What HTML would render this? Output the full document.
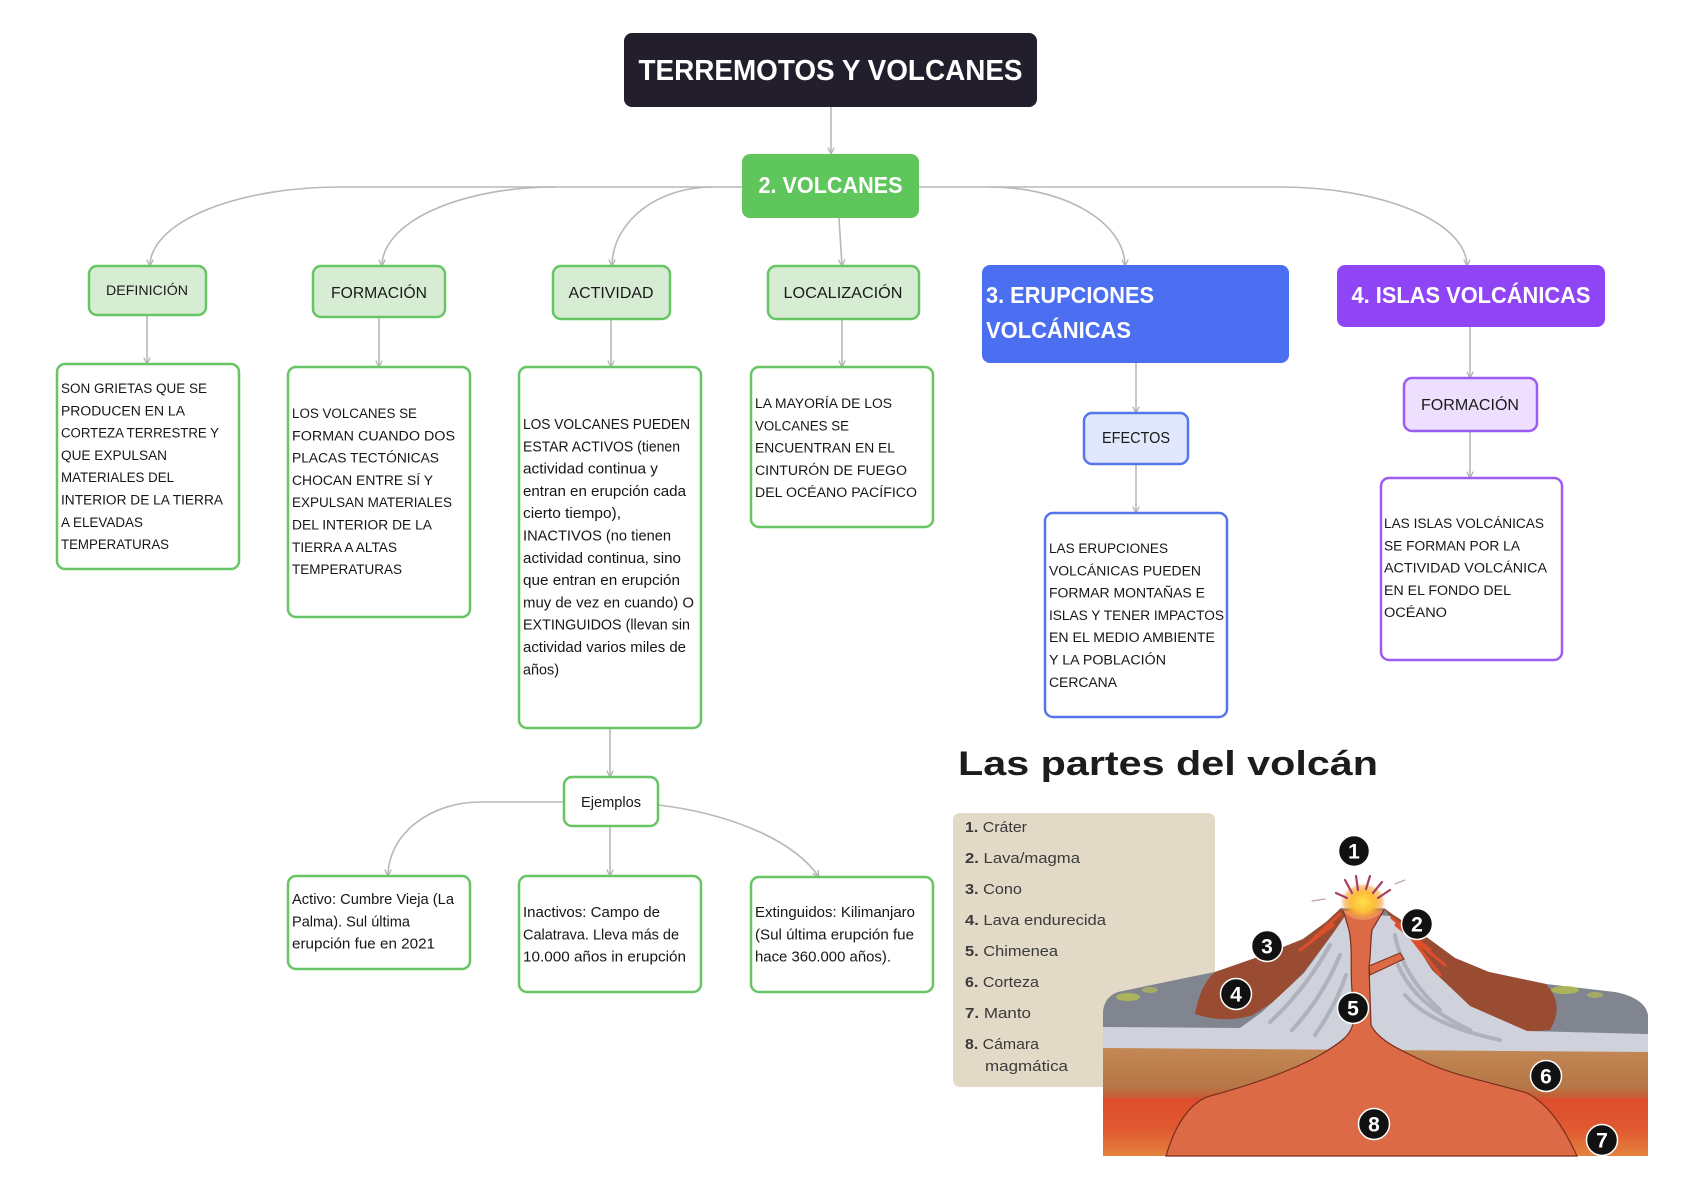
<!DOCTYPE html>
<html>
<head>
<meta charset="utf-8">
<style>
  html,body{margin:0;padding:0;background:#fff;}
  svg{display:block;}
  .u{font-family:"Liberation Sans",Arial,sans-serif;font-size:13.5px;fill:#161616;}
  .m{font-family:"Liberation Sans",Arial,sans-serif;font-size:14.5px;fill:#161616;}
  .lab{font-family:"Liberation Sans",Arial,sans-serif;fill:#1a1a1a;text-anchor:middle;}
  .hd{font-family:"Liberation Sans",Arial,sans-serif;font-weight:bold;fill:#fff;}
  .lg{font-family:"Liberation Sans",Arial,sans-serif;font-size:15px;fill:#3a3a3a;}
  .num{font-family:"Liberation Sans",Arial,sans-serif;font-weight:bold;font-size:21px;fill:#fff;text-anchor:middle;}
  .cn{fill:none;stroke:#b8b8b8;stroke-width:1.6;}
</style>
</head>
<body>
<svg width="1684" height="1190" viewBox="0 0 1684 1190" xmlns="http://www.w3.org/2000/svg">
<defs>
  <marker id="ar" viewBox="0 0 10 10" refX="9" refY="5" markerWidth="5" markerHeight="5" orient="auto">
    <path d="M1,1 L9,5 L1,9" fill="none" stroke="#b0b0b0" stroke-width="1.6"/>
  </marker>
  <linearGradient id="mantle" x1="0" y1="0" x2="0" y2="1">
    <stop offset="0" stop-color="#dd4a2c"/>
    <stop offset="0.6" stop-color="#e05a31"/>
    <stop offset="1" stop-color="#e4833f"/>
  </linearGradient>
  <linearGradient id="crust" x1="0" y1="0" x2="0" y2="1">
    <stop offset="0" stop-color="#c48a56"/>
    <stop offset="0.8" stop-color="#b67646"/>
    <stop offset="1" stop-color="#c85a35"/>
  </linearGradient>
  <radialGradient id="glow" cx="0.5" cy="0.55" r="0.5">
    <stop offset="0" stop-color="#ffe04a"/>
    <stop offset="0.5" stop-color="#fbbd3a"/>
    <stop offset="0.8" stop-color="#f7a64a" stop-opacity="0.6"/>
    <stop offset="1" stop-color="#ffffff" stop-opacity="0"/>
  </radialGradient>
</defs>

<rect width="1684" height="1190" fill="#ffffff"/>

<!-- ===== connectors ===== -->
<line class="cn" x1="831" y1="107" x2="831" y2="154" marker-end="url(#ar)"/>
<line class="cn" x1="340" y1="187" x2="1280" y2="187" stroke-width="2"/>
<path class="cn" d="M340,187 A190,79 0 0 0 150,266" marker-end="url(#ar)"/>
<path class="cn" d="M555,187 A173,79 0 0 0 382,266" marker-end="url(#ar)"/>
<path class="cn" d="M712,187 A100,79 0 0 0 612,266" marker-end="url(#ar)"/>
<line class="cn" x1="839" y1="218" x2="842" y2="266" marker-end="url(#ar)"/>
<path class="cn" d="M990,187 A135,79 0 0 1 1125,266" marker-end="url(#ar)"/>
<path class="cn" d="M1280,187 A187,79 0 0 1 1467,266" marker-end="url(#ar)"/>

<line class="cn" x1="147" y1="315" x2="147" y2="364" marker-end="url(#ar)"/>
<line class="cn" x1="379" y1="317" x2="379" y2="367" marker-end="url(#ar)"/>
<line class="cn" x1="611" y1="319" x2="611" y2="367" marker-end="url(#ar)"/>
<line class="cn" x1="842" y1="319" x2="842" y2="367" marker-end="url(#ar)"/>
<line class="cn" x1="1136" y1="363" x2="1136" y2="413" marker-end="url(#ar)"/>
<line class="cn" x1="1136" y1="464" x2="1136" y2="513" marker-end="url(#ar)"/>
<line class="cn" x1="1470" y1="327" x2="1470" y2="378" marker-end="url(#ar)"/>
<line class="cn" x1="1470" y1="431" x2="1470" y2="478" marker-end="url(#ar)"/>

<line class="cn" x1="610" y1="728" x2="610" y2="777" marker-end="url(#ar)"/>
<path class="cn" d="M563,802 L480,802 A92,74 0 0 0 388,876" marker-end="url(#ar)"/>
<line class="cn" x1="610" y1="826" x2="610" y2="876" marker-end="url(#ar)"/>
<path class="cn" d="M658,805 C718,812 790,835 819,877" marker-end="url(#ar)"/>

<!-- ===== main nodes ===== -->
<rect x="624" y="33" width="413" height="74" rx="8" fill="#231e2b"/>
<text class="hd" x="830.5" y="80" font-size="29" text-anchor="middle" textLength="384" lengthAdjust="spacingAndGlyphs">TERREMOTOS Y VOLCANES</text>

<rect x="742" y="154" width="177" height="64" rx="8" fill="#5fc65b"/>
<text class="hd" x="830.5" y="193" font-size="23" text-anchor="middle" textLength="144" lengthAdjust="spacingAndGlyphs">2. VOLCANES</text>

<rect x="982" y="265" width="307" height="98" rx="8" fill="#4c6ef0"/>
<text class="hd" x="986" y="303" font-size="23" textLength="168" lengthAdjust="spacingAndGlyphs">3. ERUPCIONES</text>
<text class="hd" x="986" y="338" font-size="23" textLength="145" lengthAdjust="spacingAndGlyphs">VOLCÁNICAS</text>

<rect x="1337" y="265" width="268" height="62" rx="8" fill="#8f45f6"/>
<text class="hd" x="1471" y="303" font-size="23" text-anchor="middle" textLength="239" lengthAdjust="spacingAndGlyphs">4. ISLAS VOLCÁNICAS</text>

<!-- level 2 green -->
<g fill="#d7edd3" stroke="#67c563" stroke-width="2.5">
  <rect x="89" y="266" width="117" height="49" rx="8"/>
  <rect x="313" y="266" width="132" height="51" rx="8"/>
  <rect x="553" y="266" width="117" height="53" rx="8"/>
  <rect x="768" y="266" width="151" height="53" rx="8"/>
</g>
<text class="lab" x="147" y="295" font-size="14" textLength="82" lengthAdjust="spacingAndGlyphs">DEFINICIÓN</text>
<text class="lab" x="379" y="298" font-size="16" textLength="96" lengthAdjust="spacingAndGlyphs">FORMACIÓN</text>
<text class="lab" x="611" y="298" font-size="16" textLength="85" lengthAdjust="spacingAndGlyphs">ACTIVIDAD</text>
<text class="lab" x="843" y="298" font-size="16" textLength="119" lengthAdjust="spacingAndGlyphs">LOCALIZACIÓN</text>

<!-- EFECTOS / purple FORMACIÓN -->
<rect x="1084" y="413" width="104" height="51" rx="8" fill="#e1e7fc" stroke="#5677ec" stroke-width="2.5"/>
<text class="lab" x="1136" y="443" font-size="16" textLength="68" lengthAdjust="spacingAndGlyphs">EFECTOS</text>
<rect x="1404" y="378" width="133" height="53" rx="8" fill="#eddffd" stroke="#9a5cf2" stroke-width="2.5"/>
<text class="lab" x="1470" y="410" font-size="16" textLength="98" lengthAdjust="spacingAndGlyphs">FORMACIÓN</text>

<!-- text boxes -->
<g fill="#ffffff" stroke="#67c563" stroke-width="2.5">
  <rect x="57" y="364" width="182" height="205" rx="8"/>
  <rect x="288" y="367" width="182" height="250" rx="8"/>
  <rect x="519" y="367" width="182" height="361" rx="8"/>
  <rect x="751" y="367" width="182" height="160" rx="8"/>
  <rect x="564" y="777" width="94" height="49" rx="8"/>
  <rect x="288" y="876" width="182" height="93" rx="8"/>
  <rect x="519" y="876" width="182" height="116" rx="8"/>
  <rect x="751" y="877" width="182" height="115" rx="8"/>
</g>
<rect x="1045" y="513" width="182" height="204" rx="8" fill="#fff" stroke="#5677ec" stroke-width="2.5"/>
<rect x="1381" y="478" width="181" height="182" rx="8" fill="#fff" stroke="#9a5cf2" stroke-width="2.5"/>

<text class="lab" x="611" y="807" font-size="15" textLength="60" lengthAdjust="spacingAndGlyphs">Ejemplos</text>

<!-- Definición text -->
<g class="u">
<text x="61" y="393" textLength="146" lengthAdjust="spacingAndGlyphs">SON GRIETAS QUE SE</text>
<text x="61" y="415.3" textLength="124" lengthAdjust="spacingAndGlyphs">PRODUCEN EN LA</text>
<text x="61" y="437.6" textLength="158" lengthAdjust="spacingAndGlyphs">CORTEZA TERRESTRE Y</text>
<text x="61" y="459.9" textLength="106" lengthAdjust="spacingAndGlyphs">QUE EXPULSAN</text>
<text x="61" y="482.2" textLength="113" lengthAdjust="spacingAndGlyphs">MATERIALES DEL</text>
<text x="61" y="504.5" textLength="162" lengthAdjust="spacingAndGlyphs">INTERIOR DE LA TIERRA</text>
<text x="61" y="526.8" textLength="82" lengthAdjust="spacingAndGlyphs">A ELEVADAS</text>
<text x="61" y="549.1" textLength="108" lengthAdjust="spacingAndGlyphs">TEMPERATURAS</text>
</g>

<!-- Formación text -->
<g class="u">
<text x="292" y="418" textLength="125" lengthAdjust="spacingAndGlyphs">LOS VOLCANES SE</text>
<text x="292" y="440.3" textLength="163" lengthAdjust="spacingAndGlyphs">FORMAN CUANDO DOS</text>
<text x="292" y="462.6" textLength="147" lengthAdjust="spacingAndGlyphs">PLACAS TECTÓNICAS</text>
<text x="292" y="484.9" textLength="141" lengthAdjust="spacingAndGlyphs">CHOCAN ENTRE SÍ Y</text>
<text x="292" y="507.2" textLength="160" lengthAdjust="spacingAndGlyphs">EXPULSAN MATERIALES</text>
<text x="292" y="529.5" textLength="140" lengthAdjust="spacingAndGlyphs">DEL INTERIOR DE LA</text>
<text x="292" y="551.8" textLength="105" lengthAdjust="spacingAndGlyphs">TIERRA A ALTAS</text>
<text x="292" y="574.1" textLength="110" lengthAdjust="spacingAndGlyphs">TEMPERATURAS</text>
</g>

<!-- Actividad text -->
<g class="m">
<text x="523" y="429" textLength="167" lengthAdjust="spacingAndGlyphs">LOS VOLCANES PUEDEN</text>
<text x="523" y="451.3" textLength="157" lengthAdjust="spacingAndGlyphs">ESTAR ACTIVOS (tienen</text>
<text x="523" y="473.6" textLength="135" lengthAdjust="spacingAndGlyphs">actividad continua y</text>
<text x="523" y="495.9" textLength="163" lengthAdjust="spacingAndGlyphs">entran en erupción cada</text>
<text x="523" y="518.2" textLength="98" lengthAdjust="spacingAndGlyphs">cierto tiempo),</text>
<text x="523" y="540.5" textLength="148" lengthAdjust="spacingAndGlyphs">INACTIVOS (no tienen</text>
<text x="523" y="562.8" textLength="158" lengthAdjust="spacingAndGlyphs">actividad continua, sino</text>
<text x="523" y="585.1" textLength="157" lengthAdjust="spacingAndGlyphs">que entran en erupción</text>
<text x="523" y="607.4" textLength="171" lengthAdjust="spacingAndGlyphs">muy de vez en cuando) O</text>
<text x="523" y="629.7" textLength="167" lengthAdjust="spacingAndGlyphs">EXTINGUIDOS (llevan sin</text>
<text x="523" y="652" textLength="163" lengthAdjust="spacingAndGlyphs">actividad varios miles de</text>
<text x="523" y="674.3" textLength="36" lengthAdjust="spacingAndGlyphs">años)</text>
</g>

<!-- Localización text -->
<g class="u">
<text x="755" y="408" textLength="137" lengthAdjust="spacingAndGlyphs">LA MAYORÍA DE LOS</text>
<text x="755" y="430.3" textLength="94" lengthAdjust="spacingAndGlyphs">VOLCANES SE</text>
<text x="755" y="452.6" textLength="140" lengthAdjust="spacingAndGlyphs">ENCUENTRAN EN EL</text>
<text x="755" y="474.9" textLength="152" lengthAdjust="spacingAndGlyphs">CINTURÓN DE FUEGO</text>
<text x="755" y="497.2" textLength="162" lengthAdjust="spacingAndGlyphs">DEL OCÉANO PACÍFICO</text>
</g>

<!-- Erupciones text -->
<g class="u">
<text x="1049" y="553" textLength="119" lengthAdjust="spacingAndGlyphs">LAS ERUPCIONES</text>
<text x="1049" y="575.3" textLength="152" lengthAdjust="spacingAndGlyphs">VOLCÁNICAS PUEDEN</text>
<text x="1049" y="597.6" textLength="156" lengthAdjust="spacingAndGlyphs">FORMAR MONTAÑAS E</text>
<text x="1049" y="619.9" textLength="175" lengthAdjust="spacingAndGlyphs">ISLAS Y TENER IMPACTOS</text>
<text x="1049" y="642.2" textLength="166" lengthAdjust="spacingAndGlyphs">EN EL MEDIO AMBIENTE</text>
<text x="1049" y="664.5" textLength="117" lengthAdjust="spacingAndGlyphs">Y LA POBLACIÓN</text>
<text x="1049" y="686.8" textLength="68" lengthAdjust="spacingAndGlyphs">CERCANA</text>
</g>

<!-- Islas text -->
<g class="u">
<text x="1384" y="528" textLength="160" lengthAdjust="spacingAndGlyphs">LAS ISLAS VOLCÁNICAS</text>
<text x="1384" y="550.3" textLength="136" lengthAdjust="spacingAndGlyphs">SE FORMAN POR LA</text>
<text x="1384" y="572.6" textLength="163" lengthAdjust="spacingAndGlyphs">ACTIVIDAD VOLCÁNICA</text>
<text x="1384" y="594.9" textLength="127" lengthAdjust="spacingAndGlyphs">EN EL FONDO DEL</text>
<text x="1384" y="617.2" textLength="63" lengthAdjust="spacingAndGlyphs">OCÉANO</text>
</g>

<!-- Examples -->
<g class="m">
<text x="292" y="904" textLength="162" lengthAdjust="spacingAndGlyphs">Activo: Cumbre Vieja (La</text>
<text x="292" y="926.3" textLength="118" lengthAdjust="spacingAndGlyphs">Palma). Sul última</text>
<text x="292" y="948.6" textLength="143" lengthAdjust="spacingAndGlyphs">erupción fue en 2021</text>

<text x="523" y="917" textLength="137" lengthAdjust="spacingAndGlyphs">Inactivos: Campo de</text>
<text x="523" y="939.3" textLength="156" lengthAdjust="spacingAndGlyphs">Calatrava. Lleva más de</text>
<text x="523" y="961.6" textLength="163" lengthAdjust="spacingAndGlyphs">10.000 años in erupción</text>

<text x="755" y="917" textLength="160" lengthAdjust="spacingAndGlyphs">Extinguidos: Kilimanjaro</text>
<text x="755" y="939.3" textLength="159" lengthAdjust="spacingAndGlyphs">(Sul última erupción fue</text>
<text x="755" y="961.6" textLength="136" lengthAdjust="spacingAndGlyphs">hace 360.000 años).</text>
</g>

<!-- ===== Las partes del volcán ===== -->
<text x="958" y="775" font-family="'Liberation Sans',Arial,sans-serif" font-weight="bold" font-size="34" fill="#1c1c1c" textLength="420" lengthAdjust="spacingAndGlyphs">Las partes del volcán</text>

<rect x="953" y="813" width="262" height="274" rx="7" fill="#e2d9c7"/>
<g class="lg">
<text x="965" y="832" textLength="62" lengthAdjust="spacingAndGlyphs"><tspan font-weight="bold">1.</tspan> Cráter</text>
<text x="965" y="863" textLength="115" lengthAdjust="spacingAndGlyphs"><tspan font-weight="bold">2.</tspan> Lava/magma</text>
<text x="965" y="894" textLength="57" lengthAdjust="spacingAndGlyphs"><tspan font-weight="bold">3.</tspan> Cono</text>
<text x="965" y="925" textLength="141" lengthAdjust="spacingAndGlyphs"><tspan font-weight="bold">4.</tspan> Lava endurecida</text>
<text x="965" y="956" textLength="93" lengthAdjust="spacingAndGlyphs"><tspan font-weight="bold">5.</tspan> Chimenea</text>
<text x="965" y="987" textLength="74" lengthAdjust="spacingAndGlyphs"><tspan font-weight="bold">6.</tspan> Corteza</text>
<text x="965" y="1018" textLength="66" lengthAdjust="spacingAndGlyphs"><tspan font-weight="bold">7.</tspan> Manto</text>
<text x="965" y="1049" textLength="74" lengthAdjust="spacingAndGlyphs"><tspan font-weight="bold">8.</tspan> Cámara</text>
<text x="985" y="1071" textLength="83" lengthAdjust="spacingAndGlyphs">magmática</text>
</g>

<!-- ===== volcano drawing ===== -->
<g>
  <ellipse cx="1362" cy="905" rx="70" ry="40" fill="#ffffff" opacity="0.9"/>
  <rect x="1103" y="1092" width="545" height="64" fill="url(#mantle)"/>
  <rect x="1103" y="1044" width="545" height="54" fill="url(#crust)"/>
  <path d="M1103,1032 L1103,1012 Q1104,997 1118,992 L1185,978 L1215,972 L1261,956 L1303,939 L1326,922 L1341,908 L1384,908 L1392,914 L1421,933 L1455,958 L1489,972 L1546,984 L1615,992 Q1645,998 1648,1015 L1648,1036 Z" fill="#80858f"/>
  <path d="M1195,1014 Q1200,985 1215,972 L1261,956 L1303,939 L1326,922 L1341,908 L1347,914 L1334,932 L1304,972 L1276,1000 L1253,1015 Q1225,1024 1195,1014 Z" fill="#9a4c33"/>
  <path d="M1384,908 L1392,914 L1421,933 L1455,958 L1489,972 L1546,984 Q1565,1005 1550,1030 L1527,1032 L1470,1006 L1432,970 L1413,940 L1390,917 Z" fill="#9a4c33"/>
  <path d="M1103,1027 L1240,1028 L1262,1012 L1304,973 L1334,932 L1347,913 L1390,916 L1413,940 L1432,970 L1470,1006 L1527,1031 L1648,1034 L1648,1052 L1103,1048 Z" fill="#cfd2da"/>
  <g fill="none" stroke="#aeb2bc" stroke-width="4" stroke-linecap="round">
    <path d="M1270,1022 Q1305,990 1330,945"/>
    <path d="M1292,1030 Q1322,998 1340,955"/>
    <path d="M1315,1035 Q1336,1005 1346,975"/>
    <path d="M1395,935 Q1402,975 1440,1010"/>
    <path d="M1398,965 Q1415,1005 1470,1030"/>
    <path d="M1405,995 Q1430,1025 1500,1040"/>
  </g>
  <g fill="none" stroke="#dd4f2a" stroke-width="3" stroke-linecap="round">
    <path d="M1340,914 L1312,940"/>
    <path d="M1333,925 L1300,950"/>
    <path d="M1392,918 L1430,950"/>
    <path d="M1396,925 L1445,965"/>
    <path d="M1405,930 L1440,975"/>
  </g>
  <path d="M1166,1156 C1175,1125 1190,1102 1210,1096 C1250,1085 1290,1072 1320,1055 C1340,1043 1352,1035 1353,1022 L1352,990 C1350,970 1353,950 1349,930 L1343,910 L1384,910 L1372,930 C1370,945 1371,955 1369,967 L1371,1025 C1378,1040 1400,1050 1421,1060 C1450,1075 1490,1082 1527,1093 C1550,1105 1565,1130 1577,1156 Z" fill="#dc6a47" stroke="#7a2d1c" stroke-width="1.2"/>
  <path d="M1369,966 L1400,953 L1404,959 L1370,975 Z" fill="#dc6a47" stroke="#7a2d1c" stroke-width="1"/>
  <ellipse cx="1128" cy="997" rx="12" ry="4" fill="#b4bb55" opacity="0.85"/>
  <ellipse cx="1150" cy="990" rx="8" ry="3" fill="#b4bb55" opacity="0.7"/>
  <ellipse cx="1565" cy="990" rx="14" ry="4" fill="#b4bb55" opacity="0.85"/>
  <ellipse cx="1595" cy="995" rx="8" ry="3" fill="#b4bb55" opacity="0.7"/>
  <ellipse cx="1363" cy="900" rx="24" ry="20" fill="url(#glow)"/>
  <g stroke="#a8405a" stroke-width="2.2" stroke-linecap="round">
    <line x1="1352" y1="893" x2="1345" y2="880"/>
    <line x1="1358" y1="890" x2="1356" y2="876"/>
    <line x1="1366" y1="889" x2="1370" y2="876"/>
    <line x1="1373" y1="893" x2="1382" y2="882"/>
    <line x1="1347" y1="898" x2="1336" y2="893"/>
    <line x1="1378" y1="898" x2="1390" y2="890"/>
  </g>
  <g stroke="#9a7a8a" stroke-width="1.2" stroke-linecap="round" opacity="0.7">
    <line x1="1325" y1="899" x2="1312" y2="901"/>
    <line x1="1395" y1="884" x2="1405" y2="880"/>
  </g>
  <g stroke="#ffffff" stroke-width="1.5" fill="#111">
    <circle cx="1354" cy="851" r="15.5"/>
    <circle cx="1417" cy="924" r="15.5"/>
    <circle cx="1267" cy="946" r="15.5"/>
    <circle cx="1236" cy="994" r="15.5"/>
    <circle cx="1353" cy="1008" r="15.5"/>
    <circle cx="1546" cy="1076" r="15.5"/>
    <circle cx="1602" cy="1140" r="15.5"/>
    <circle cx="1374" cy="1124" r="15.5"/>
  </g>
  <text class="num" x="1354" y="858.5">1</text>
  <text class="num" x="1417" y="931.5">2</text>
  <text class="num" x="1267" y="953.5">3</text>
  <text class="num" x="1236" y="1001.5">4</text>
  <text class="num" x="1353" y="1015.5">5</text>
  <text class="num" x="1546" y="1083.5">6</text>
  <text class="num" x="1602" y="1147.5">7</text>
  <text class="num" x="1374" y="1131.5">8</text>
</g>
</svg>
</body>
</html>
